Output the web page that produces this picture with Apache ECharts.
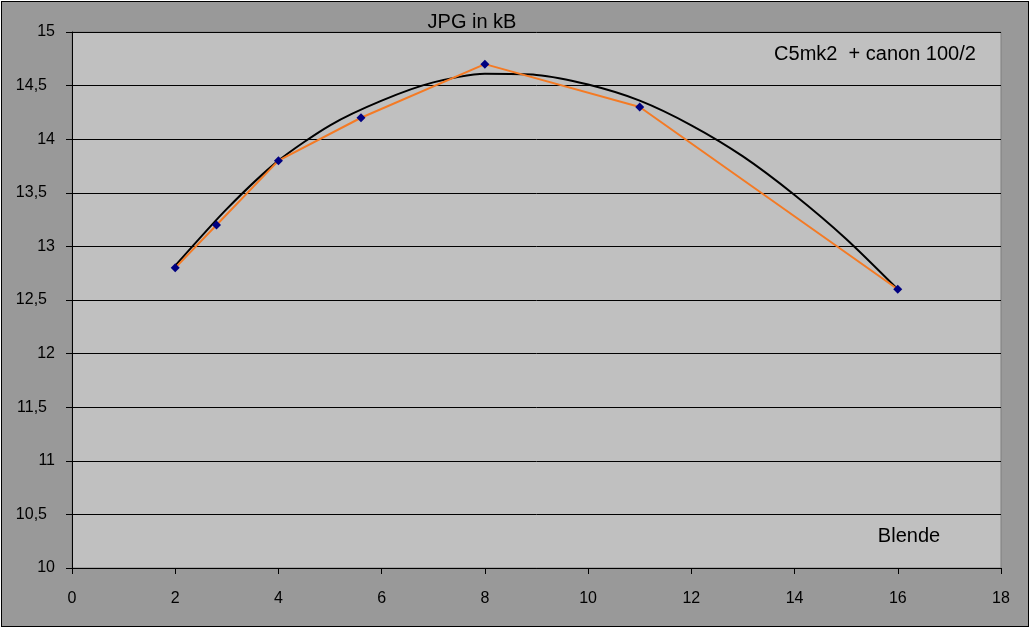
<!DOCTYPE html>
<html>
<head>
<meta charset="utf-8">
<script src="https://cdn.jsdelivr.net/npm/echarts@6/dist/echarts.min.js"></script>
<style>
  html, body { margin: 0; padding: 0; background: #fff; }
  #chart { position: absolute; left: 1px; top: 1px; width: 1028px; height: 626px;
           box-sizing: border-box; border: 1px solid #000; background: #999999; }
</style>
</head>
<body>
<div id="chart"></div>
<script>
// Blende vs. JPG size
var blende = [2, 2.8, 4, 5.6, 8, 11, 16];
var jpgSize = [12.8, 13.2, 13.8, 14.2, 14.7, 14.3, 12.6];

// trend curve
var trendX = [2, 3, 4, 5, 6, 7, 8, 9, 10, 11, 12, 13, 14, 15, 16];
var trendY = [12.82, 13.35, 13.8, 14.13, 14.36, 14.53, 14.61, 14.6, 14.51, 14.36, 14.13, 13.84, 13.48, 13.07, 12.6];

function pairs(xs, ys) {
    return xs.map(function (x, i) { return [x, ys[i]]; });
}

var myChart = echarts.init(document.getElementById('chart'));
var font = 'Liberation Sans, Arial, sans-serif';
var textStyle = { fontSize: 20, fontWeight: 'normal', color: '#000', fontFamily: font };
var option = {
    animation: false,
    title: [
        { text: 'JPG in kB', left: 465, top: 5, textAlign: 'center', textStyle: textStyle },
        { text: 'C5mk2  + canon 100/2', left: 868, top: 37, textAlign: 'center', textStyle: textStyle },
        { text: 'Blende', left: 902, top: 519, textAlign: 'center', textStyle: textStyle }
    ],
    grid: {
        left: 70, top: 30, right: 27, bottom: 58,
        show: true, backgroundColor: '#c0c0c0', borderColor: '#808080', borderWidth: 1
    },
    xAxis: {
        type: 'value', min: 0, max: 18, interval: 2,
        axisLine: { show: true, onZero: false, lineStyle: { color: '#000', width: 1 } },
        axisTick: { show: true, length: 6, lineStyle: { color: '#000' } },
        splitLine: { show: false },
        axisLabel: { color: '#000', fontSize: 16, fontFamily: font, margin: 23 }
    },
    yAxis: {
        type: 'value', min: 10, max: 15, interval: 0.5,
        axisLine: { show: true, lineStyle: { color: '#000', width: 1 } },
        axisTick: { show: true, length: 6, lineStyle: { color: '#000' } },
        splitLine: { show: true, lineStyle: { color: '#000', width: 1 } },
        axisLabel: {
            color: '#000', fontSize: 16, fontFamily: font, margin: 17,
            formatter: function (v) {
                var s = String(v).replace('.', ',');
                return s.indexOf(',') >= 0 ? '{d|' + s + '}' : s;
            },
            rich: {
                d: { fontSize: 16, fontFamily: font, color: '#000', padding: [0, 8, 0, 0] }
            }
        }
    },
    series: [
        {
            name: 'Trend',
            type: 'line',
            data: pairs(trendX, trendY),
            smooth: 0.25,
            showSymbol: false,
            lineStyle: { color: '#000', width: 2 },
            z: 2
        },
        {
            name: 'JPG',
            type: 'line',
            data: pairs(blende, jpgSize),
            symbol: 'diamond',
            symbolSize: 9,
            itemStyle: { color: '#000080' },
            lineStyle: { color: '#f47a24', width: 2 },
            z: 3
        }
    ]
};
myChart.setOption(option);
</script>
</body>
</html>
